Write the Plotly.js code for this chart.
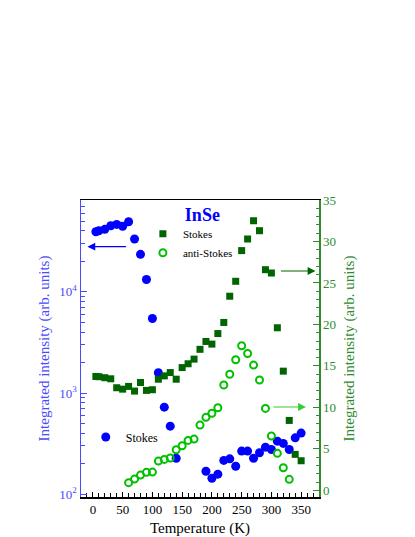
<!DOCTYPE html>
<html>
<head>
<meta charset="utf-8">
<script src="https://cdn.plot.ly/plotly-3.0.1.min.js"></script>
<style>html,body{margin:0;padding:0;background:#fff;}#chart{width:415px;height:537px;}</style>
</head>
<body>
<div id="chart"></div>
<script>
// Stokes (left, log axis, blue)
const tStokesBlue = [5,10,20,30,40,50,60,70,80,90,100,110,120,130,140,190,200,210,220,230,240,250,260,270,280,290,300,310,320,330,340,350];
const stokesBlue = [39300,40200,41500,45000,46400,44400,49300,33300,23500,13270,5460,1590,726,471,227,169,144,158,216,224,189,267,267,227,257,292,277,335,318,277,361,402];

// Stokes (right axis, green squares)
const tStokesGreen = [5,10,20,30,40,50,60,70,80,90,100,110,120,130,140,150,160,170,180,190,200,210,220,230,240,250,260,270,280,290,300,310,320,330,340,350];
const stokesGreen = [13.73,13.7,13.58,13.45,12.37,12.2,12.53,11.97,13.0,12.05,12.13,13.4,13.8,14.2,13.4,14.8,15.26,15.82,17.0,17.95,17.63,18.9,20.24,23.4,25.2,28.9,30.3,32.5,31.3,26.6,26.2,19.6,14.37,8.43,4.34,3.57];

// anti-Stokes (right axis, open green circles)
const tAnti = [60,70,80,90,100,110,120,130,140,150,160,170,180,190,200,210,220,230,240,250,260,270,280,290,300,310,320,330];
const antiStokes = [0.93,1.36,1.84,2.17,2.2,3.53,3.73,3.9,4.9,5.38,6.02,6.18,7.87,8.8,9.3,9.96,12.7,14.0,15.75,17.43,16.5,15.1,13.3,9.88,6.55,4.46,2.73,1.33];

const leftTickVals = [100,1000,10000];
const leftTickText = ['10<sup>2</sup>','10<sup>3</sup>','10<sup>4</sup>'];

const FONT = 'Liberation Serif, Times New Roman, serif';
const BLUE = '#0000ff';
const AXBLUE = '#4a4aff';
const DKGREEN = '#006400';
const LTGREEN = '#00c000';
const AXGREEN = '#2e8b2e';

const traces = [
  {x: tStokesGreen, y: stokesGreen, yaxis: 'y2', name: 'Stokes', mode: 'markers', type: 'scatter',
   marker: {symbol: 'square', size: 7, color: DKGREEN}, legend: 'legend'},
  {x: tAnti, y: antiStokes, yaxis: 'y2', name: 'anti-Stokes', mode: 'markers', type: 'scatter',
   marker: {symbol: 'circle-open', size: 7, color: LTGREEN, line: {width: 2, color: LTGREEN}}, legend: 'legend'},
  {x: tStokesBlue, y: stokesBlue, yaxis: 'y', name: 'Stokes', mode: 'markers', type: 'scatter',
   marker: {symbol: 'circle', size: 9, color: BLUE}, legend: 'legend2'}
];

const layout = {
  width: 415, height: 537,
  margin: {l: 81, r: 96, t: 200, b: 40},
  paper_bgcolor: '#fff', plot_bgcolor: '#fff',
  font: {family: FONT, size: 13, color: '#000'},
  title: {text: '<b>InSe</b>', font: {family: FONT, size: 18, color: BLUE},
          xref: 'paper', yref: 'paper', x: 0.51, y: 0.95, xanchor: 'center', yanchor: 'middle'},
  xaxis: {
    range: [-20, 380], showgrid: false, zeroline: false,
    showline: true, linecolor: '#000', linewidth: 1.5, mirror: true,
    ticks: 'inside', ticklen: 5, tickwidth: 1, tickcolor: '#000',
    tickvals: [0,50,100,150,200,250,300,350],
    minor: {ticks: 'inside', ticklen: 4, dtick: 10, tickcolor: '#000', showgrid: false},
    tickfont: {family: FONT, size: 13, color: '#000'},
    title: {text: 'Temperature (K)', font: {family: FONT, size: 15, color: '#000'}, standoff: 6}
  },
  yaxis: {
    type: 'log', range: [1.973, 4.908], showgrid: false, zeroline: false,
    showline: true, linecolor: AXBLUE, linewidth: 1.5,
    ticks: 'inside', ticklen: 6, tickcolor: AXBLUE,
    tickvals: leftTickVals, ticktext: leftTickText,
    minor: {ticks: 'inside', ticklen: 4, dtick: 'D1', tickcolor: AXBLUE, showgrid: false},
    tickfont: {family: FONT, size: 13, color: AXBLUE},
    title: {text: 'Integrated intensity (arb. units)', font: {family: FONT, size: 15, color: AXBLUE}, standoff: 6}
  },
  yaxis2: {
    overlaying: 'y', side: 'right', range: [-0.8, 35], showgrid: false, zeroline: false,
    showline: true, linecolor: AXGREEN, linewidth: 1.5,
    ticks: 'inside', ticklen: 6, tickcolor: AXGREEN, dtick: 5, tick0: 0,
    minor: {ticks: 'inside', ticklen: 3, dtick: 1, tickcolor: AXGREEN, showgrid: false},
    tickfont: {family: FONT, size: 13, color: AXGREEN},
    title: {text: 'Integrated intensity (arb. units)', font: {family: FONT, size: 15, color: AXGREEN}, standoff: 8}
  },
  legend: {x: 0.26, y: 0.935, xanchor: 'left', yanchor: 'top', bgcolor: 'rgba(0,0,0,0)',
           font: {family: FONT, size: 11, color: '#000'}, tracegroupgap: 0, itemwidth: 30},
  legend2: {x: 0.02, y: 0.202, xanchor: 'left', yanchor: 'middle', bgcolor: 'rgba(0,0,0,0)',
           font: {family: FONT, size: 12, color: '#000'}, itemwidth: 30},
  showlegend: true,
  annotations: [
    {xref: 'paper', yref: 'paper', x: 0.027, y: 0.843, ax: 40, ay: 0,
     showarrow: true, arrowhead: 2, arrowsize: 1.3, arrowwidth: 1.2, arrowcolor: BLUE, text: ''},
    {xref: 'paper', yref: 'paper', x: 0.985, y: 0.761, ax: -36, ay: 0,
     showarrow: true, arrowhead: 2, arrowsize: 1.3, arrowwidth: 1.2, arrowcolor: DKGREEN, text: ''},
    {xref: 'paper', yref: 'paper', x: 0.945, y: 0.303, ax: -34, ay: 0,
     showarrow: true, arrowhead: 2, arrowsize: 1.3, arrowwidth: 1.2, arrowcolor: '#33cc33', text: ''}
  ]
};

Plotly.newPlot('chart', traces, layout, {displayModeBar: false, staticPlot: true});
</script>
</body>
</html>
